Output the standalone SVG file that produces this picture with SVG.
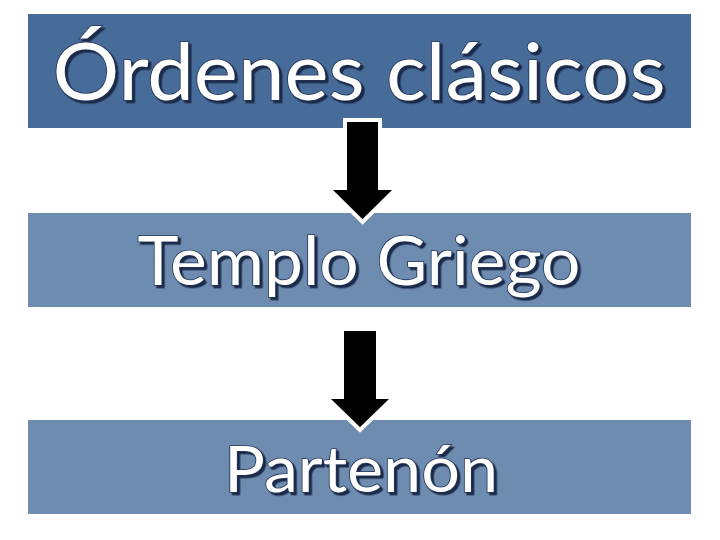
<svg xmlns="http://www.w3.org/2000/svg" width="720" height="540" viewBox="0 0 720 540">
<defs>
<filter id="shadow" x="-5%" y="-20%" width="110%" height="140%">
<feDropShadow dx="2.5" dy="2.5" stdDeviation="0.3" flood-color="#1c2c4a" flood-opacity="1"/>
</filter>
</defs>
<style>
.lbl{font-family:Lato,"Open Sans","Liberation Sans",sans-serif;fill:#ffffff;text-anchor:middle;stroke:#22355a;stroke-width:1.6;paint-order:stroke;filter:url(#shadow);}
.arrow{fill:#000000;stroke:#ffffff;stroke-width:4;stroke-linejoin:miter;}
</style>
<rect width="720" height="540" fill="#ffffff"/>
<g id="node-ordenes">
<rect x="28" y="14" width="663" height="114" fill="#476c99"/>
<text class="lbl" x="359" y="100" font-size="80" textLength="613" lengthAdjust="spacingAndGlyphs">Órdenes clásicos</text>
</g>
<g id="node-templo">
<rect x="28" y="213" width="663" height="94" fill="#6e8cb0"/>
<text class="lbl" x="359" y="285" font-size="68" textLength="443" lengthAdjust="spacingAndGlyphs">Templo Griego</text>
</g>
<g id="node-partenon">
<rect x="28" y="420" width="663" height="94" fill="#6e8cb0"/>
<text class="lbl" x="361" y="492" font-size="64" textLength="274" lengthAdjust="spacingAndGlyphs">Partenón</text>
</g>
<g id="connectors">
<polygon class="arrow" points="345,120 380,120 380,188 397,188 362.5,222 328,188 345,188"/>
<polygon class="arrow" points="342,329 378,329 378,397 394,397 360,430 326,397 342,397"/>
</g>
</svg>
